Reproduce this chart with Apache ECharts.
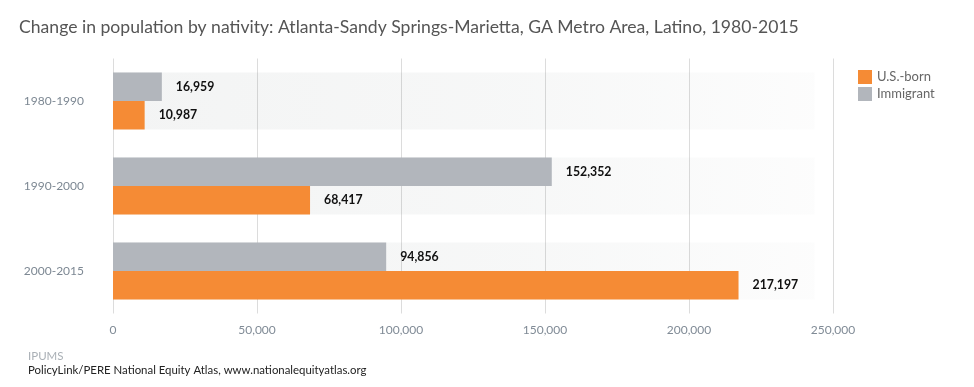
<!DOCTYPE html>
<html>
<head>
<meta charset="utf-8">
<style>html,body{margin:0;padding:0;background:#fff;}#c{width:974px;height:387px;}</style>
<script src="https://cdn.jsdelivr.net/npm/echarts@6/dist/echarts.min.js"></script>
</head>
<body>
<div id="c"></div>
<script>
const categories = ['1980-1990', '1990-2000', '2000-2015'];
const immigrant = [16959, 152352, 94856];
const usBorn = [10987, 68417, 217197];
const titleText = 'Change in population by nativity: Atlanta-Sandy Springs-Marietta, GA Metro Area, Latino, 1980-2015';
const sourceLine1 = 'IPUMS';
const sourceLine2 = 'PolicyLink/PERE National Equity Atlas, www.nationalequityatlas.org';

const FONT = 'Lato';
const bg = {
  color: {
    type: 'linear', x: 0, y: 0, x2: 1, y2: 0,
    colorStops: [
      {offset: 0, color: 'rgba(20,40,40,0.05)'},
      {offset: 0.55, color: 'rgba(20,40,40,0.035)'},
      {offset: 0.974, color: 'rgba(20,40,40,0.012)'},
      {offset: 0.975, color: 'rgba(255,255,255,0)'},
      {offset: 1, color: 'rgba(255,255,255,0)'}
    ]
  }
};
const lbl = {
  show: true, position: 'right', distance: 14,
  fontFamily: FONT, fontWeight: 'bold', fontSize: 12.3, color: '#111',
  formatter: p => p.value.toLocaleString('en-US')
};
const chart = echarts.init(document.getElementById('c'));
chart.setOption({
  animation: false,
  backgroundColor: '#fff',
  title: {
    text: titleText, left: 14, top: 13,
    textStyle: {fontFamily: FONT, fontSize: 17.6, fontWeight: 'normal', color: '#555'}
  },
  legend: {
    data: ['U.S.-born', 'Immigrant'],
    orient: 'vertical', left: 853, top: 65,
    itemWidth: 14, itemHeight: 14, itemGap: 3,
    icon: 'rect',
    textStyle: {fontFamily: FONT, fontSize: 13, color: '#666'}
  },
  grid: {left: 113, right: 141, top: 58.5, bottom: 73.5},
  xAxis: {
    type: 'value', min: 0, max: 250000, interval: 50000,
    axisLine: {show: false}, axisTick: {show: false},
    splitLine: {lineStyle: {color: '#dcdcdc', width: 1}},
    axisLabel: {margin: 11, fontFamily: FONT, fontSize: 12, color: '#808b96',
      formatter: v => v.toLocaleString('en-US')}
  },
  yAxis: {
    type: 'category', data: categories, inverse: true,
    axisLine: {show: false}, axisTick: {show: false},
    axisLabel: {margin: 29, fontFamily: FONT, fontSize: 12, color: '#7d8893'}
  },
  series: [
    {name: 'Immigrant', type: 'bar', data: immigrant, barGap: '0%', barCategoryGap: '33%',
     itemStyle: {color: '#b2b6bc'}, showBackground: true, backgroundStyle: bg, label: lbl},
    {name: 'U.S.-born', type: 'bar', data: usBorn, barGap: '0%', barCategoryGap: '33%',
     itemStyle: {color: '#f58b35'}, showBackground: true, backgroundStyle: bg, label: lbl}
  ],
  graphic: [
    {type: 'text', left: 28, top: 350, style: {text: sourceLine1, fontFamily: FONT, fontSize: 11.5, fill: '#aab0b6'}},
    {type: 'text', left: 28, top: 365, style: {text: sourceLine2, fontFamily: FONT, fontSize: 11.4, fill: '#222'}}
  ]
});
</script>
</body>
</html>
